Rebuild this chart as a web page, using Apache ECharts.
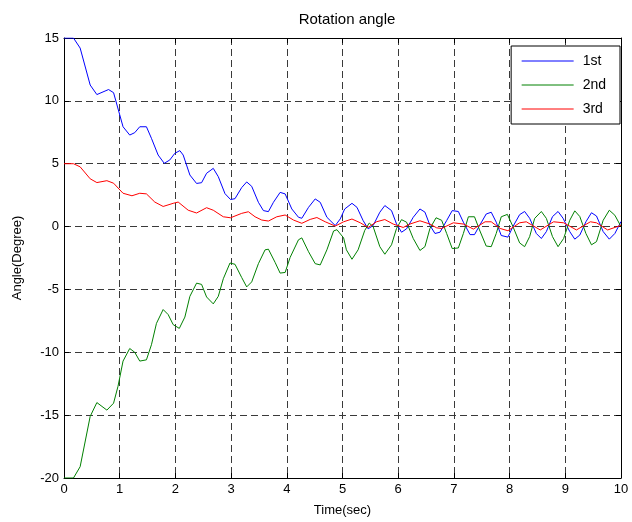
<!DOCTYPE html>
<html>
<head>
<meta charset="utf-8">
<script src="https://cdn.jsdelivr.net/npm/echarts@6/dist/echarts.min.js"></script>
<style>html,body{margin:0;padding:0;background:#fff}#c{width:632px;height:522px}</style>
</head>
<body>
<div id="c"></div>
<script>
const seriesNames = ['1st', '2nd', '3rd'];
const xTicks = [0,1,2,3,4,5,6,7,8,9,10];
const yTicks = [-20,-15,-10,-5,0,5,10,15];

const t1 = [0,0.17,0.29,0.47,0.59,0.80,0.89,1.06,1.18,1.27,1.36,1.48,1.57,1.69,1.80,1.90,1.99,2.08,2.14,2.26,2.38,2.47,2.56,2.68,2.77,2.89,2.99,3.07,3.19,3.28,3.37,3.49,3.58,3.67,3.76,3.88,3.97,4.09,4.21,4.27,4.39,4.51,4.60,4.72,4.87,4.96,5.04,5.17,5.26,5.37,5.46,5.55,5.67,5.76,5.88,5.97,6.06,6.15,6.27,6.39,6.48,6.57,6.66,6.75,6.87,6.97,7.08,7.17,7.29,7.37,7.46,7.58,7.67,7.76,7.85,7.97,8.06,8.18,8.27,8.36,8.48,8.57,8.66,8.77,8.87,8.96,9.08,9.17,9.26,9.37,9.47,9.56,9.68,9.79,9.89,10.0];
const y1 = [15,15,14.2,11.26,10.5,10.9,10.65,7.94,7.28,7.47,7.94,7.94,7.02,5.69,5.03,5.3,5.83,6.04,5.69,4.1,3.43,3.49,4.24,4.63,3.97,2.62,2.15,2.22,3.1,3.55,3.2,1.93,1.27,1.19,1.93,2.72,2.6,1.4,0.74,0.66,1.53,2.2,1.93,0.74,0.08,0.61,1.4,1.85,1.53,0.48,-0.18,0.08,1.14,1.67,1.27,0.21,-0.45,-0.18,0.74,1.4,1.15,0.1,-0.55,-0.45,0.48,1.27,1.2,0.35,-0.64,-0.64,0.08,1.0,1.14,0.35,-0.71,-0.84,0.0,0.95,1.2,0.66,-0.55,-0.95,-0.4,0.79,1.2,0.66,-0.4,-1.0,-0.68,0.38,1.1,0.84,-0.4,-1.0,-0.55,0.4];

const t2 = [0,0.17,0.29,0.47,0.59,0.77,0.89,0.97,1.06,1.18,1.27,1.36,1.48,1.57,1.66,1.78,1.87,1.96,2.07,2.17,2.26,2.38,2.47,2.56,2.68,2.77,2.86,2.98,3.07,3.19,3.28,3.37,3.49,3.61,3.67,3.79,3.88,3.97,4.06,4.21,4.27,4.39,4.51,4.60,4.72,4.84,4.90,5.02,5.07,5.17,5.28,5.40,5.48,5.55,5.67,5.76,5.88,5.97,6.06,6.15,6.27,6.39,6.48,6.57,6.68,6.78,6.87,6.97,7.08,7.17,7.26,7.37,7.46,7.58,7.67,7.76,7.85,7.96,8.06,8.18,8.27,8.36,8.45,8.57,8.66,8.77,8.87,8.97,9.08,9.17,9.26,9.37,9.47,9.56,9.68,9.79,9.89,10.0];
const y2 = [-20,-20,-19.1,-15.1,-14.0,-14.6,-14.05,-12.7,-10.7,-9.7,-10.0,-10.7,-10.6,-9.4,-7.7,-6.6,-7.0,-7.8,-8.1,-7.2,-5.55,-4.5,-4.6,-5.6,-6.15,-5.55,-4.15,-2.9,-3.0,-4.05,-4.8,-4.4,-2.95,-1.85,-1.8,-2.85,-3.7,-3.65,-2.45,-1.05,-0.9,-2.0,-2.95,-3.05,-1.85,-0.35,-0.25,-0.9,-1.85,-2.6,-1.85,-0.3,0.28,0,-1.6,-2.2,-1.45,-0.15,0.55,0.35,-0.95,-1.9,-1.6,-0.15,0.7,0.5,-0.55,-1.75,-1.7,-0.55,0.78,0.78,-0.27,-1.55,-1.6,-0.55,0.78,0.97,0,-1.3,-1.6,-0.8,0.65,1.2,0.65,-0.8,-1.6,-0.95,0.5,1.25,0.8,-0.55,-1.45,-1.2,0.5,1.3,0.9,0.0];

const t3 = [0,0.17,0.29,0.47,0.59,0.77,0.89,1.06,1.22,1.36,1.48,1.63,1.78,1.96,2.05,2.23,2.38,2.56,2.68,2.86,2.99,3.19,3.31,3.43,3.55,3.67,3.82,3.97,4.12,4.27,4.42,4.54,4.69,4.87,5.02,5.17,5.32,5.46,5.61,5.76,5.91,6.09,6.21,6.39,6.57,6.69,6.78,6.99,7.17,7.35,7.56,7.67,7.83,7.97,8.18,8.30,8.55,8.79,8.97,9.20,9.45,9.56,9.76,10.0];
const y3 = [5,5,4.75,3.8,3.5,3.65,3.45,2.65,2.45,2.65,2.6,1.95,1.6,1.85,1.95,1.3,1.08,1.5,1.3,0.78,0.7,1.05,1.18,0.78,0.52,0.44,0.78,0.92,0.52,0.26,0.57,0.72,0.38,0.04,0.38,0.6,0.3,-0.07,0.38,0.56,0.2,-0.07,0.2,0.46,0.2,-0.1,-0.15,0.3,0.2,-0.2,0.38,0.38,-0.15,-0.33,0.3,0.38,-0.27,0.38,0.3,-0.27,0.38,0.3,-0.27,0.1];

const zip = (t, y) => t.map((v, i) => [v, y[i]]);
const FONT = 'Liberation Sans, Arial, sans-serif';
const chart = echarts.init(document.getElementById('c'), null, {renderer: 'canvas'});

const baseAxisLine = {show: true, onZero: false, lineStyle: {color: '#000', width: 1}};
const tick = {show: true, inside: true, length: 5, lineStyle: {color: '#000'}};
const gridLine = {show: true, lineStyle: {color: '#3a3a3a', type: [7, 4], width: 1}};

chart.setOption({
  animation: false,
  backgroundColor: '#fff',
  title: {
    text: 'Rotation angle', left: 342, top: 7, textAlign: 'center',
    textStyle: {fontFamily: FONT, fontSize: 15, fontWeight: 'normal', color: '#000'}
  },
  grid: {left: 64, right: 11, top: 38, bottom: 44, containLabel: false},
  legend: {
    data: seriesNames, orient: 'vertical', right: 12, top: 46,
    backgroundColor: '#fff', borderColor: '#000', borderWidth: 1,
    padding: [8, 14, 8, 10], itemGap: 10, itemWidth: 52, itemHeight: 14,
    itemStyle: {opacity: 0},
    lineStyle: {width: 1},
    textStyle: {fontFamily: FONT, fontSize: 14, color: '#000', padding: [0, 0, 0, 4]}
  },
  xAxis: [{
    type: 'value', min: 0, max: 10, interval: 1, position: 'bottom',
    name: 'Time(sec)', nameLocation: 'middle', nameGap: 26,
    nameTextStyle: {fontFamily: FONT, fontSize: 13, color: '#000'},
    axisLine: baseAxisLine, axisTick: tick,
    axisLabel: {fontFamily: FONT, fontSize: 13, color: '#000', margin: 5,
      formatter: v => xTicks.includes(v) ? String(v) : ''},
    splitLine: gridLine
  }, {
    type: 'value', min: 0, max: 10, interval: 1, position: 'top',
    axisLine: baseAxisLine, axisTick: tick, axisLabel: {show: false}, splitLine: {show: false}
  }],
  yAxis: [{
    type: 'value', min: -20, max: 15, interval: 5, position: 'left',
    name: 'Angle(Degree)', nameLocation: 'middle', nameGap: 40,
    nameTextStyle: {fontFamily: FONT, fontSize: 13, color: '#000'},
    axisLine: baseAxisLine, axisTick: tick,
    axisLabel: {fontFamily: FONT, fontSize: 13, color: '#000', margin: 5,
      formatter: v => yTicks.includes(v) ? String(v) : ''},
    splitLine: gridLine
  }, {
    type: 'value', min: -20, max: 15, interval: 5, position: 'right',
    axisLine: baseAxisLine, axisTick: tick, axisLabel: {show: false}, splitLine: {show: false}
  }],
  series: [
    {name: seriesNames[0], type: 'line', data: zip(t1, y1), symbol: 'none', lineStyle: {color: '#0000ff', width: 1}, itemStyle: {color: '#0000ff'}, z: 3},
    {name: seriesNames[1], type: 'line', data: zip(t2, y2), symbol: 'none', lineStyle: {color: '#008000', width: 1}, itemStyle: {color: '#008000'}, z: 4},
    {name: seriesNames[2], type: 'line', data: zip(t3, y3), symbol: 'none', lineStyle: {color: '#ff0000', width: 1}, itemStyle: {color: '#ff0000'}, z: 5}
  ]
});
</script>
</body>
</html>
